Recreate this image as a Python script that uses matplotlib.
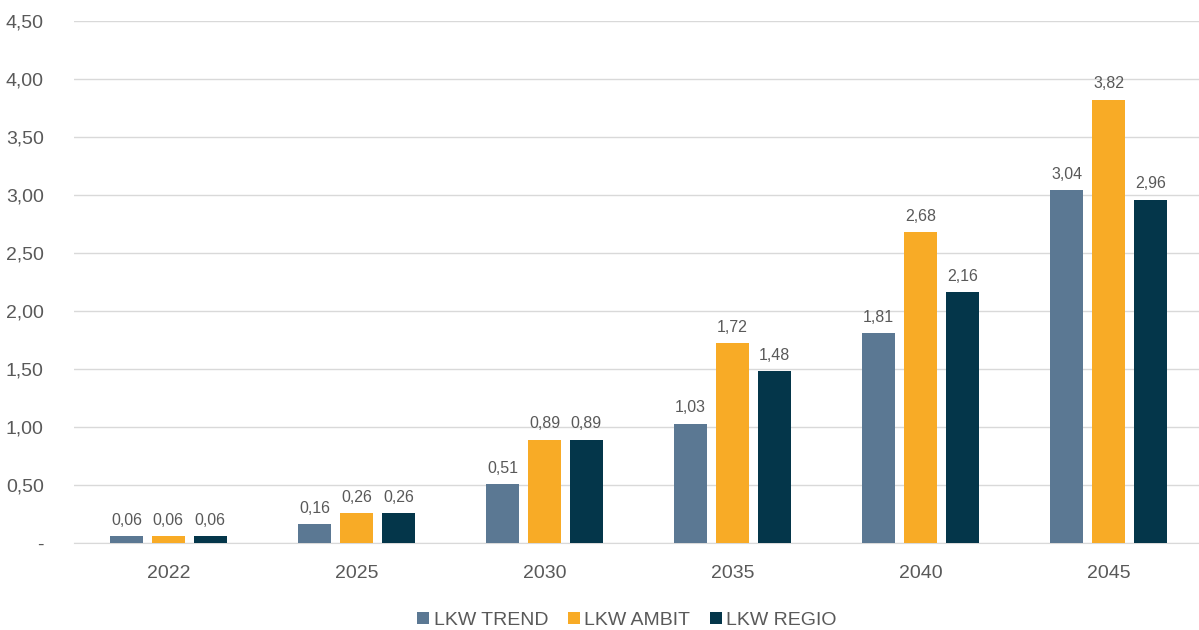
import numpy as np
import matplotlib.pyplot as plt

plt.rcParams['font.family'] = ['Liberation Sans', 'DejaVu Sans']

years = ['2022', '2025', '2030', '2035', '2040', '2045']
series = ['LKW TREND', 'LKW AMBIT', 'LKW REGIO']
trend = [0.06, 0.16, 0.51, 1.03, 1.81, 3.04]
ambit = [0.06, 0.26, 0.89, 1.72, 2.68, 3.82]
regio = [0.06, 0.26, 0.89, 1.48, 2.16, 2.96]
colors = ['#5B7893', '#F8AB26', '#04364A']
yticks = [0, 0.5, 1.0, 1.5, 2.0, 2.5, 3.0, 3.5, 4.0, 4.5]

text_col = '#595959'

fig = plt.figure(figsize=(11.99, 6.3), dpi=100)
ax = fig.add_axes([0.062, 0.138, 0.941, 0.829])

x = np.arange(len(years))
w = 0.176
step = 0.223
for i, (vals, name, c) in enumerate(zip([trend, ambit, regio], series, colors)):
    bars = ax.bar(x + (i - 1) * step, vals, w, color=c, label=name, zorder=3)
    for b, v in zip(bars, vals):
        ax.annotate(f'{v:.2f}'.replace('.', ','),
                    (b.get_x() + b.get_width() / 2, b.get_height()),
                    xytext=(0, 6), textcoords='offset points',
                    ha='center', va='bottom', fontsize=11.5, color=text_col)

ax.set_xlim(-0.5, 5.5)
ax.set_ylim(0, 4.5)
ax.set_xticks(x)
ax.set_xticklabels(years, fontsize=14, color=text_col)
ax.set_yticks(yticks)
ax.set_yticklabels(['-'] + [f'{t:.2f}'.replace('.', ',') for t in yticks[1:]],
                   fontsize=14, color=text_col)
ax.tick_params(length=0)
ax.tick_params(axis='x', pad=16)
ax.tick_params(axis='y', pad=22)
ax.grid(axis='y', color='#D9D9D9', linewidth=1, zorder=0)
ax.set_axisbelow(True)
for s in ['top', 'right', 'left']:
    ax.spines[s].set_visible(False)
ax.spines['bottom'].set_color('#D9D9D9')

ax.legend(loc='upper center', bbox_to_anchor=(0.49, -0.098), ncol=3, frameon=False,
          fontsize=14, labelcolor=text_col, handlelength=0.6, handleheight=0.6,
          handletextpad=0.25, columnspacing=1.0)

fig.savefig('out.png', dpi=100)
